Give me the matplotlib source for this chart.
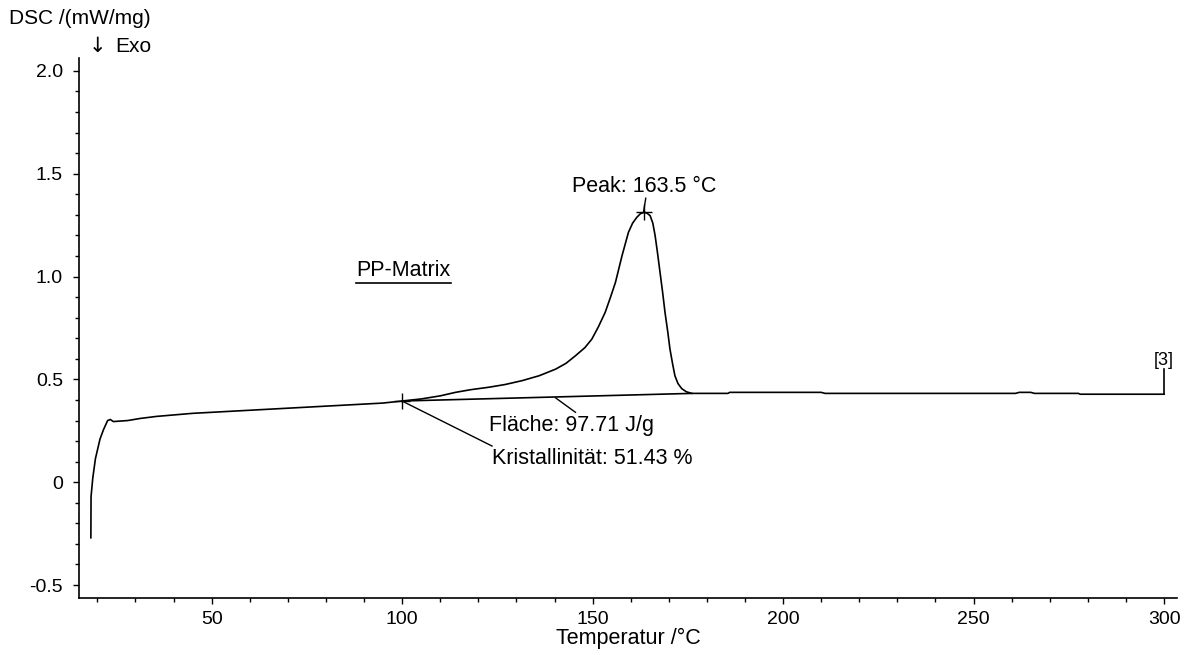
import matplotlib
matplotlib.use("Agg")
import matplotlib.pyplot as plt
from matplotlib.ticker import MultipleLocator

plt.rcParams['font.family'] = ['Liberation Sans', 'DejaVu Sans']

# DSC heating curve, PP matrix
temp = [18.3, 18.35, 18.8, 19.5, 20.7, 21.6, 22.7, 23.4, 24.2, 28.0, 31.2, 35.5,
        45, 55, 65, 75, 85, 95, 100, 105, 110, 114, 118, 122.8, 127, 131.5,
        136, 140.3, 143, 145.5, 148, 149.8, 151.5, 153.3, 154.7, 156.0, 157.7,
        159.4, 160.5, 161.6, 162.5, 163.5, 164.3, 165.1, 165.8, 166.4, 167.0,
        167.7, 168.4, 169.0, 169.7, 170.3, 171.0, 171.6, 172.4, 173.4, 174.6,
        176.0, 185.5, 186, 210, 211, 261, 262, 265, 266, 277.5, 278, 300]
dsc = [-0.27, -0.07, 0.02, 0.115, 0.21, 0.255, 0.30, 0.305, 0.295, 0.30, 0.31, 0.32,
       0.335, 0.345, 0.355, 0.365, 0.375, 0.385, 0.395, 0.405, 0.42, 0.437, 0.45,
       0.462, 0.475, 0.494, 0.518, 0.55, 0.578, 0.615, 0.655, 0.696, 0.755, 0.826,
       0.9, 0.972, 1.10, 1.215, 1.26, 1.288, 1.305, 1.313, 1.308, 1.296, 1.26,
       1.20, 1.12, 1.02, 0.92, 0.826, 0.735, 0.648, 0.575, 0.518, 0.48, 0.455,
       0.44, 0.432, 0.432, 0.437, 0.437, 0.432, 0.432, 0.437, 0.437, 0.432,
       0.432, 0.428, 0.428]

# integration baseline
base_t = [100, 176]
base_v = [0.395, 0.432]

peak_t = 163.5
peak_v = 1.313
area = 97.71
crystallinity = 51.43

fig = plt.figure(figsize=(11.87, 6.55), dpi=100)
ax = fig.add_axes([0.0666, 0.087, 0.925, 0.8245])

ax.plot(temp, dsc, color='black', lw=1.2)
ax.plot(base_t, base_v, color='black', lw=1.2)

ax.set_xlim(15.2, 303.4)
ax.set_ylim(-0.563, 2.063)
ax.xaxis.set_major_locator(MultipleLocator(50))
ax.xaxis.set_minor_locator(MultipleLocator(10))
ax.yaxis.set_major_locator(MultipleLocator(0.5))
ax.yaxis.set_minor_locator(MultipleLocator(0.1))
ax.yaxis.set_major_formatter(plt.FuncFormatter(lambda v, p: f'{v:.1f}' if v != 0 else '0'))
ax.xaxis.set_major_formatter(plt.FuncFormatter(lambda v, p: f'{v:.0f}'))
ax.tick_params(which='major', direction='out', length=4.5, width=1, labelsize=14, color='black')
ax.tick_params(axis='y', which='major', pad=7)
ax.tick_params(axis='x', which='major', pad=5)
ax.tick_params(which='minor', direction='out', length=3, width=1)
for s in ['top', 'right']:
    ax.spines[s].set_visible(False)
for s in ['left', 'bottom']:
    ax.spines[s].set_linewidth(1.2)

ax.set_xlabel('Temperatur /°C', fontsize=15.5, labelpad=0)
fig.text(9 / 1187, 1 - 18 / 655, 'DSC /(mW/mg)', fontsize=15, va='center', ha='left')
fig.text(89 / 1187, 1 - 46 / 655, '↓', fontsize=15, va='center', ha='left',
         family=['DejaVu Sans'])
fig.text(115 / 1187, 1 - 47 / 655, 'Exo', fontsize=15, va='center', ha='left')

# peak marker and label
ax.plot([peak_t], [peak_v], marker='+', color='black', ms=11, mew=1)
ax.plot([peak_t - 0.15, peak_t + 0.45], [peak_v, peak_v + 0.068], color='black', lw=1)
ax.text(144.5, 1.44, f'Peak: {peak_t} °C', fontsize=15.5, va='center', ha='left')

# onset of integration, area and crystallinity
ax.plot([base_t[0]], [base_v[0]], marker='+', color='black', ms=11, mew=1)
ax.plot([base_t[0] + 0.5, 123.6], [base_v[0] - 0.005, 0.176], color='black', lw=1)
ax.plot([140.3, 145.5], [0.41, 0.34], color='black', lw=1)
ax.text(122.8, 0.275, f'Fläche: {area} J/g', fontsize=15.5, va='center', ha='left')
ax.text(123.6, 0.113, f'Kristallinität: {crystallinity} %', fontsize=15.5, va='center', ha='left')

# curve end tag
ax.plot([temp[-1], temp[-1]], [dsc[-1], 0.55], color='black', lw=1.2)
ax.text(temp[-1], 0.59, '[3]', fontsize=13, va='center', ha='center')

# underlined sample name
name = ax.text(88.0, 1.03, 'PP-Matrix', fontsize=15.5, va='center', ha='left')
fig.canvas.draw()
bb = name.get_window_extent().transformed(ax.transData.inverted())
ax.plot([bb.x0, bb.x1], [bb.y0 - 0.01, bb.y0 - 0.01], color='black', lw=1.2)

fig.savefig('out.png', dpi=100)
